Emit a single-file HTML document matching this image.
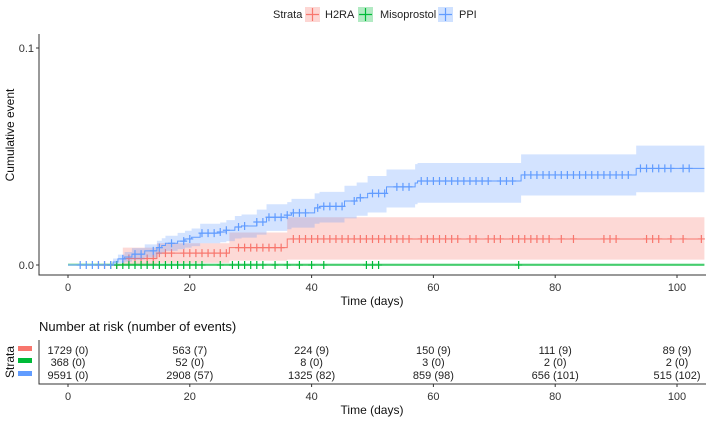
<!DOCTYPE html>
<html><head><meta charset="utf-8"><style>
body{margin:0;background:#fff;width:709px;height:420px;overflow:hidden;font-family:"Liberation Sans",Arial,sans-serif}
svg text{font-family:"Liberation Sans",Arial,sans-serif}
</style></head><body>
<svg id="chart" width="709" height="420" xmlns="http://www.w3.org/2000/svg">
<g id="legend">
  <text x="273" y="18" font-size="11" fill="#222">Strata</text>
  <g><rect x="305" y="7" width="15" height="15" fill="#f8766d" opacity="0.3"/><path d="M306,14.5h13M312.5,8v13" stroke="#f8766d" stroke-width="1.2"/><text x="325" y="18" font-size="11" fill="#222">H2RA</text></g>
  <g><rect x="358" y="7" width="15" height="15" fill="#00ba38" opacity="0.3"/><path d="M359,14.5h13M365.5,8v13" stroke="#00ba38" stroke-width="1.2"/><text x="380" y="18" font-size="11" fill="#222">Misoprostol</text></g>
  <g><rect x="438" y="7" width="15" height="15" fill="#619cff" opacity="0.3"/><path d="M439,14.5h13M445.5,8v13" stroke="#619cff" stroke-width="1.2"/><text x="459" y="18" font-size="11" fill="#222">PPI</text></g>
</g>
<g id="plot"></g>
<g id="axes"></g>
<g id="risk"></g>
</svg>
<script>
const ppiTimes=[0,7.4,8.2,9.3,10.5,12.6,14.6,15.4,16,18,19.2,20.3,21.7,25,26,27.4,28.5,31,32.6,36,36.7,40.5,41.3,45.4,47.4,49.2,52.3,57,57.4,74.4,93.3];
const ppiEst=[0,0.0014,0.0028,0.0037,0.005,0.0065,0.008,0.009,0.010,0.011,0.012,0.0128,0.0147,0.0152,0.016,0.0175,0.018,0.0198,0.022,0.023,0.024,0.0263,0.027,0.0295,0.031,0.033,0.036,0.0378,0.0387,0.0415,0.0445];
const ppiLo=[0,0,0.001,0.0015,0.0025,0.0035,0.005,0.0058,0.0065,0.0073,0.008,0.0087,0.010,0.0105,0.011,0.0122,0.0126,0.014,0.0157,0.0165,0.0172,0.019,0.0196,0.0215,0.0227,0.0242,0.0265,0.028,0.0287,0.032,0.0335];
const ppiHi=[0,0.003,0.0048,0.006,0.0078,0.0095,0.0112,0.0123,0.0135,0.0148,0.0158,0.0168,0.019,0.0196,0.0207,0.0226,0.0233,0.0255,0.028,0.029,0.0305,0.033,0.0337,0.0365,0.038,0.041,0.044,0.0465,0.047,0.051,0.055];
const h2Times=[0,9,14.6,26.5,36];
const h2Est=[0,0.003,0.0055,0.008,0.012];
const h2Lo=[0,0,0.001,0.002,0.0025];
const h2Hi=[0,0.008,0.010,0.015,0.022];
const miTimes=[0];
const miEst=[0];
const miLo=[0];
const miHi=[0.0008];
const ppiCens=[2,3,4,5,6,7,9,11,12,14,15,17,19,20,22,23,24,25,26,28,29,31,32,33,34,35,36,37,38,39,41,42,43,44,45,47,48,50,51,52,54,55,56,58,59,60,61,62,63,64,65,66,67,68,69,71,72,73,75,76,77,78,79,80,81,82,83,84,85,86,87,88,89,90,91,92,94,95,96,97,98,99,101,102];
const h2Cens=[5,6,7,8,10,11,12,13,14,15,16,17,19,20,21,22,23,24,25,26,28,29,30,31,32,33,34,35,37,38,39,40,41,42,43,44,45,46,47,48,49,50,51,52,53,54,55,56,58,59,60,61,62,63,64,66,67,69,70,71,73,74,75,76,77,78,79,81,83,88,89,90,95,96,97,99,101,104];
const miCens=[7,8,9,10,11,12,13,14,15,16,17,18,19,20,21,22,25,27,28,29,30,31,32,34,36,38,40,42,49,50,51,74];
const xTicks=[0,20,40,60,80,100];
const yTicks=[0,0.1];
const yTickLabels=["0.0","0.1"];
const riskH2=["1729 (0)","563 (7)","224 (9)","150 (9)","111 (9)","89 (9)"];
const riskMi=["368 (0)","52 (0)","8 (0)","3 (0)","2 (0)","2 (0)"];
const riskPpi=["9591 (0)","2908 (57)","1325 (82)","859 (98)","656 (101)","515 (102)"];

const NS="http://www.w3.org/2000/svg";
const X=d=>68+d*6.09;
const Y=v=>265-v*2170;
const XMAX=104.5;
function mk(tag,attrs,parent){const e=document.createElementNS(NS,tag);for(const k in attrs)e.setAttribute(k,attrs[k]);parent.appendChild(e);return e;}
const plot=document.getElementById('plot');
function stepAt(times,vals,t){let v=vals[0];for(let i=0;i<times.length;i++)if(times[i]<=t)v=vals[i];return v;}
function drawSeries(name,col,times,est,lo,hi,cens,lw){
  let top="",bot="";
  for(let i=0;i<times.length;i++){const t0=X(times[i]),t1=X(i+1<times.length?times[i+1]:XMAX);
    top+=(i?"L":"M")+t0+","+Y(hi[i])+"L"+t1+","+Y(hi[i]);
    bot="L"+t1+","+Y(lo[i])+"L"+t0+","+Y(lo[i])+bot;}
  const band=mk('path',{d:top+bot+"Z",fill:col,opacity:0.28},plot);
  
  
  let d="";
  for(let i=0;i<times.length;i++){const t0=X(times[i]),t1=X(i+1<times.length?times[i+1]:XMAX);
    d+=(i?"L":"M")+t0+","+Y(est[i])+"L"+t1+","+Y(est[i]);}
  const ln=mk('path',{d:d,fill:"none",stroke:col,"stroke-width":lw},plot);
  
  
  let c="";
  cens.forEach(t=>{const x=X(t),y=Y(stepAt(times,est,t));c+="M"+(x-3.5)+","+y+"h7M"+x+","+(y-4)+"v8";});
  const cm=mk('path',{d:c,fill:"none",stroke:col,"stroke-width":1.2},plot);
  
  
}
drawSeries('h2ra','#f8766d',h2Times,h2Est,h2Lo,h2Hi,h2Cens,1);
drawSeries('misoprostol','#00ba38',miTimes,miEst,miLo,miHi,miCens,1.2);
drawSeries('ppi','#619cff',ppiTimes,ppiEst,ppiLo,ppiHi,ppiCens,1);

const ax=document.getElementById('axes');
const yl=mk('path',{d:"M39,34V275H706",fill:"none",stroke:"#333","stroke-width":1},ax);


yTicks.forEach((v,i)=>{mk('path',{d:"M36,"+Y(v)+"h3",stroke:"#333"},ax);
  const t=mk('text',{x:34,y:Y(v)+4,"font-size":11,"text-anchor":"end",fill:"#333"},ax);t.textContent=yTickLabels[i];
  
  });
xTicks.forEach(v=>{mk('path',{d:"M"+X(v)+",275v3",stroke:"#333"},ax);
  const t=mk('text',{x:X(v),y:291,"font-size":11,"text-anchor":"middle",fill:"#333"},ax);t.textContent=v;
  
  });
let t=mk('text',{x:372,y:305,"font-size":12,"text-anchor":"middle",fill:"#111"},ax);t.textContent="Time (days)";


t=mk('text',{x:0,y:0,"font-size":12,"text-anchor":"middle",fill:"#111",transform:"translate(14,135) rotate(-90)"},ax);t.textContent="Cumulative event";



const rk=document.getElementById('risk');
t=mk('text',{x:39,y:331,"font-size":13,fill:"#111"},rk);t.textContent="Number at risk (number of events)";


const rl=mk('path',{d:"M39,340V384H706",fill:"none",stroke:"#333"},rk);


const rows=[[riskH2,'#f8766d',351],[riskMi,'#00ba38',363],[riskPpi,'#619cff',376]];
rows.forEach((r,ri)=>{
  const b=mk('rect',{x:18,y:r[2]-5,width:14,height:5,fill:r[1]},rk);
  
  
  r[0].forEach((s,i)=>{const e=mk('text',{x:X(xTicks[i]),y:r[2]+3,"font-size":11,"text-anchor":"middle",fill:"#222"},rk);e.textContent=s;
    
    });
});
t=mk('text',{x:0,y:0,"font-size":12,"text-anchor":"middle",fill:"#111",transform:"translate(14,362) rotate(-90)"},rk);t.textContent="Strata";


xTicks.forEach(v=>{mk('path',{d:"M"+X(v)+",384v3",stroke:"#333"},rk);
  const e=mk('text',{x:X(v),y:400,"font-size":11,"text-anchor":"middle",fill:"#333"},rk);e.textContent=v;
  
  });
t=mk('text',{x:372,y:414,"font-size":12,"text-anchor":"middle",fill:"#111"},rk);t.textContent="Time (days)";


</script>
</body></html>
